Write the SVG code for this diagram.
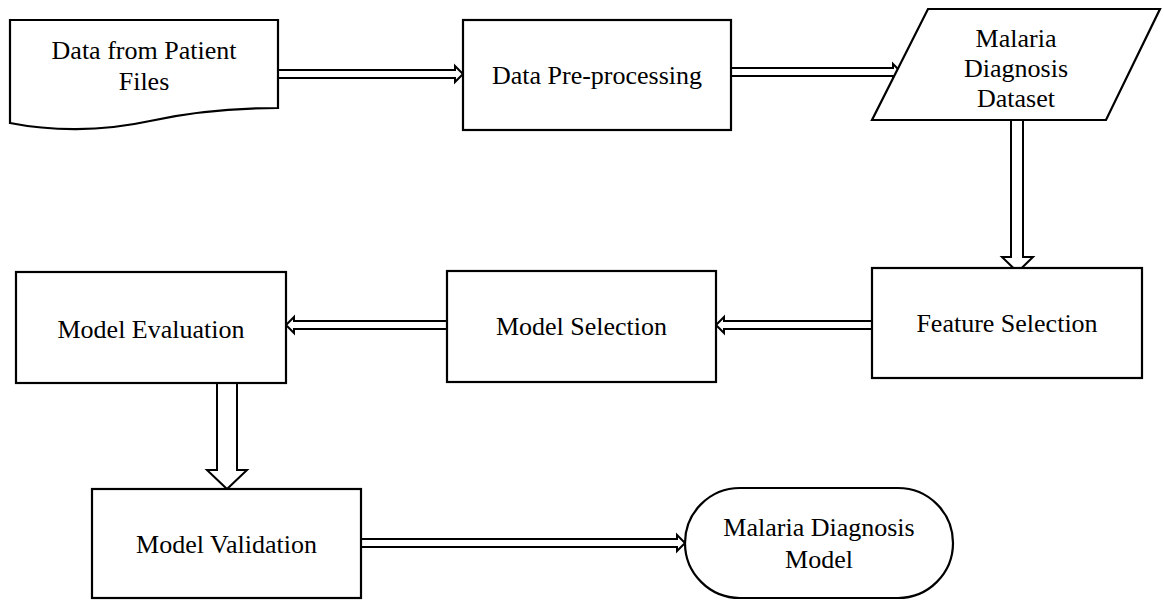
<svg xmlns="http://www.w3.org/2000/svg" width="1164" height="602" viewBox="0 0 1164 602">
  <style>
    .shape { fill: #ffffff; stroke: #000000; stroke-width: 2.2; stroke-linejoin: miter; }
    .arrow { fill: #ffffff; stroke: #000000; stroke-width: 2; stroke-linejoin: miter; }
    .label { font-family: "Liberation Serif", "Times New Roman", serif; font-size: 26px; fill: #000000; text-anchor: middle; }
  </style>

  <rect x="0" y="0" width="1164" height="602" fill="#ffffff"/>

  <!-- connectors: thin hollow arrows between steps, block arrows for the vertical drops -->
  <g id="connectors">
    <path class="arrow" d="M278,70 H455 V66 L463,74 L455,82 V78 H278"/>
    <path class="arrow" d="M731,68 H893 V64 L901,72 L893,80 V76 H731"/>
    <path class="arrow" d="M1011,120 V257 H1002 L1017.5,272 L1033,257 H1023 V120"/>
    <path class="arrow" d="M872,321 H724 V317 L716,325 L724,333 V329 H872"/>
    <path class="arrow" d="M447,321 H294 V317 L286,325 L294,333 V329 H447"/>
    <path class="arrow" d="M217,383 V470 H207 L227,489 L247,470 H237 V383"/>
    <path class="arrow" d="M361,539 H677 V535 L685,543 L677,551 V547 H361"/>
  </g>

  <g id="patient-files">
    <path class="shape" d="M10,20 H278 V108 C240,108 195,111 150,121 C100,132 50,131 10,123 Z"/>
    <text class="label" x="144" y="59">Data from Patient</text>
    <text class="label" x="144" y="90">Files</text>
  </g>

  <g id="pre-processing">
    <rect class="shape" x="463" y="20" width="268" height="110"/>
    <text class="label" x="597" y="84">Data Pre-processing</text>
  </g>

  <g id="dataset">
    <path class="shape" d="M928,9 H1160 L1106,120 H872 Z"/>
    <text class="label" x="1016" y="47">Malaria</text>
    <text class="label" x="1016" y="77">Diagnosis</text>
    <text class="label" x="1016" y="107">Dataset</text>
  </g>

  <g id="feature-selection">
    <rect class="shape" x="872" y="268" width="270" height="110"/>
    <text class="label" x="1007" y="332">Feature Selection</text>
  </g>

  <g id="model-selection">
    <rect class="shape" x="447" y="271" width="269" height="111"/>
    <text class="label" x="581.5" y="335">Model Selection</text>
  </g>

  <g id="model-evaluation">
    <rect class="shape" x="16" y="272" width="270" height="111"/>
    <text class="label" x="151" y="338">Model Evaluation</text>
  </g>

  <g id="model-validation">
    <rect class="shape" x="92" y="489" width="269" height="109"/>
    <text class="label" x="226.5" y="553">Model Validation</text>
  </g>

  <g id="diagnosis-model">
    <rect class="shape" x="685" y="488" width="268" height="110" rx="55" ry="55"/>
    <text class="label" x="819" y="536">Malaria Diagnosis</text>
    <text class="label" x="819" y="568">Model</text>
  </g>
</svg>
